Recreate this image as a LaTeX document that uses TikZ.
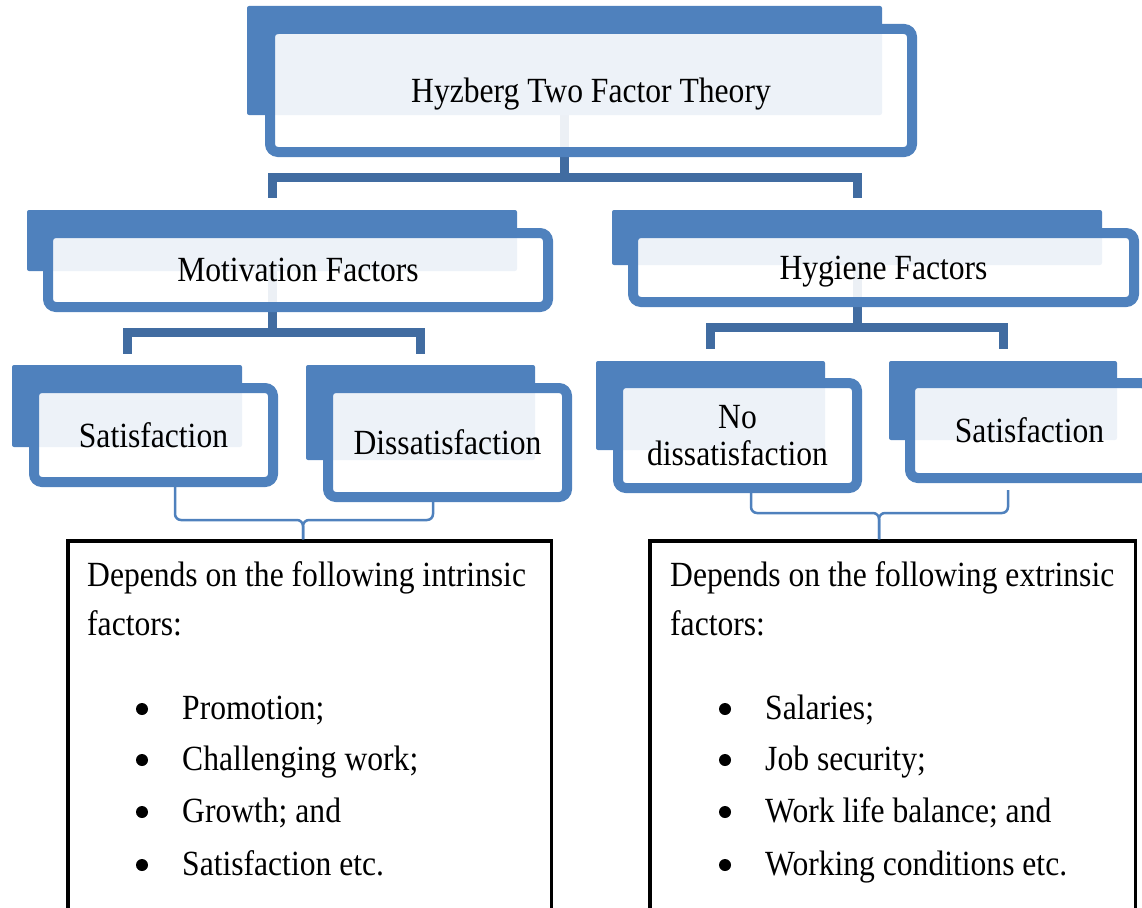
\documentclass[tikz,border=0pt]{standalone}
\usepackage{fontspec}
\setmainfont{Liberation Serif}
\usetikzlibrary{positioning, backgrounds}
\definecolor{hzblue}{RGB}{79,129,189}
\definecolor{hzdark}{RGB}{65,108,161}
\tikzset{%
  backbar/.style  = {fill=hzblue, rounded corners=2pt, inner sep=0pt, outer sep=0pt}, % shadow block
  factor/.style   = {draw=hzblue, line width=10pt, rounded corners=8pt, fill=white,
    fill opacity=0.9, inner sep=0pt}, % front box
  lbl/.style      = {font=\fontsize{31.6}{33.5}\selectfont, align=center, inner sep=0pt, yscale=1.12},
  txt/.style      = {font=\fontsize{31.6}{36}\selectfont, inner sep=0pt, yscale=1.12, anchor=base west},
  dot/.style      = {circle, fill=black, minimum size=12pt, inner sep=0pt}, % list bullet
  link/.style     = {draw=hzdark, line width=9pt}, % tree connector
  bracket/.style  = {draw=hzblue, line width=2.5pt, rounded corners=6pt},
  listbox/.style  = {draw=black, line width=3.5pt, inner sep=0pt}
}

\begin{document}
\begin{tikzpicture}[x=1pt, y=-1pt]
  \useasboundingbox (0,0) rectangle (1142,907);
  \clip (0,0) rectangle (1142,907);

  % top level
  \draw node at (564.5,60.5) [backbar, minimum width=635pt, minimum height=109pt] (theoryback) {};
  \draw node at (591,90.5) [factor, minimum width=642pt, minimum height=123pt] (theory) {};
  \draw node at ([yshift=-4pt]theory.center) [lbl] (theorytxt) {Hyzberg Two Factor Theory};

  % second level
  \draw node at (272,240.5) [backbar, minimum width=490pt, minimum height=61pt] (motback) {};
  \draw node at (298,270) [factor, minimum width=500pt, minimum height=74pt] (mot) {};
  \draw node at (mot.center) [lbl] (mottxt) {Motivation Factors};

  \draw node at (857,237.5) [backbar, minimum width=490pt, minimum height=55pt] (hygback) {};
  \draw node at (883.5,267.5) [factor, minimum width=501pt, minimum height=69pt] (hyg) {};
  \draw node at ([yshift=-4pt]hyg.center) [lbl] (hygtxt) {Hygiene Factors};

  % third level
  \draw node at (127,406) [backbar, minimum width=230pt, minimum height=82pt] (satback) {};
  \draw node at (153.5,435) [factor, minimum width=239pt, minimum height=94pt] (sat) {};
  \draw node at (sat.center) [lbl] (sattxt) {Satisfaction};

  \draw node at (420.5,412.5) [backbar, minimum width=229pt, minimum height=95pt] (dissback) {};
  \draw node at (447.5,442.5) [factor, minimum width=239pt, minimum height=109pt] (diss) {};
  \draw node at (diss.center) [lbl] (disstxt) {Dissatisfaction};

  \draw node at (710.5,405.5) [backbar, minimum width=229pt, minimum height=89pt] (nodisback) {};
  \draw node at (737.5,435.5) [factor, minimum width=239pt, minimum height=105pt] (nodis) {};
  \draw node at (nodis.center) [lbl] (nodistxt) {No\\dissatisfaction};

  \draw node at (1003,400.5) [backbar, minimum width=228pt, minimum height=79pt] (satrback) {};
  \draw node at (1029.5,430.5) [factor, minimum width=239pt, minimum height=95pt] (satr) {};
  \draw node at (satr.center) [lbl] (satrtxt) {Satisfaction};

  % tree connectors, behind the boxes
  \begin{scope}[on background layer]
    \draw[link] (theoryback.south) -- ++(0,62) coordinate (topbar) -| ([yshift=12pt]motback.north);
    \draw[link] (topbar) -| ([yshift=12pt]hygback.north);
    \draw[link] (motback.south) -- ++(0,61) coordinate (motbar) -| ([yshift=11pt]satback.north);
    \draw[link] (motbar) -| ([yshift=11pt]dissback.north);
    \draw[link] (hygback.south) -- ++(0,62) coordinate (hygbar) -| ([yshift=12pt]nodisback.north);
    \draw[link] (hygbar) -| ([yshift=12pt]satrback.north);
  \end{scope}

  % lists
  \draw node at (309.5,751) [listbox, minimum width=483.5pt, minimum height=420pt] (intrinsic) {};
  \draw node at (892.5,751) [listbox, minimum width=485.5pt, minimum height=420pt] (extrinsic) {};

  \draw node at (87,586) [txt] (intrhead) {Depends on the following intrinsic};
  \draw node at (87,635) [txt] (intrhead2) {factors:};
  \foreach \fac/\yy [count=\i] in {Promotion;/719, Challenging work;/770, Growth; and/822, Satisfaction etc./875}{
    \draw node at (142,\yy-10) [dot] (intrdot\i) {};
    \draw node at (182,\yy) [txt] (intr\i) {\fac};
  }

  \draw node at (670,586) [txt] (extrhead) {Depends on the following extrinsic};
  \draw node at (670,635) [txt] (extrhead2) {factors:};
  \foreach \fac/\yy [count=\i] in {Salaries;/719, Job security;/770, Work life balance; and/822, Working conditions etc./875}{
    \draw node at (725,\yy-10) [dot] (extrdot\i) {};
    \draw node at (765,\yy) [txt] (extr\i) {\fac};
  }

  % brackets
  \coordinate (lbl1) at (175,487);
  \coordinate (lbl2) at (433,497);
  \coordinate (lbm) at (303,520);
  \draw[bracket] (lbl1) |- (lbm) -- (lbm |- intrinsic.north);
  \draw[bracket] (lbl2) |- (lbm) -- (lbm |- intrinsic.north);

  \coordinate (rbl1) at (751,490);
  \coordinate (rbl2) at (1008,490);
  \coordinate (rbm) at (879,513);
  \draw[bracket] (rbl1) |- (rbm) -- (rbm |- extrinsic.north);
  \draw[bracket] (rbl2) |- (rbm) -- (rbm |- extrinsic.north);

\end{tikzpicture}
\end{document}
